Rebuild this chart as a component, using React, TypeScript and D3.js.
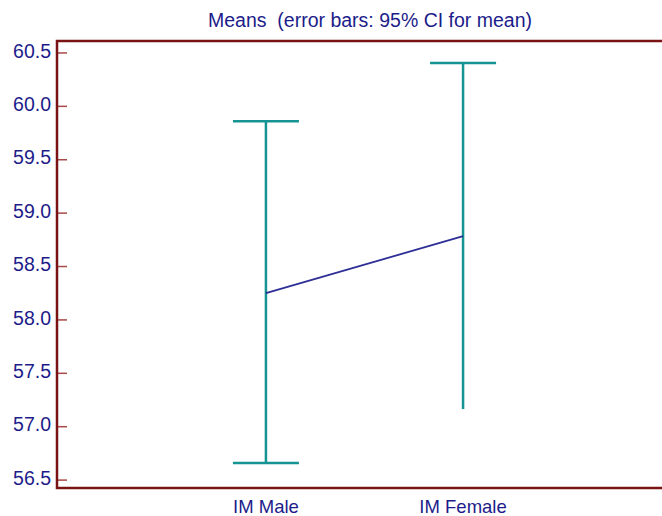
import React, { useRef, useEffect } from "react";
import * as d3 from "d3";

const categories = ["IM Male", "IM Female"];
const means = [58.25, 58.785];
const ciUpper = [59.86, 60.405];
const ciLower = [56.66, 57.165];
const showLowerCap = [true, false];
const yTicks = [56.5, 57.0, 57.5, 58.0, 58.5, 59.0, 59.5, 60.0, 60.5];
const title = "Means  (error bars: 95% CI for mean)";

const W = 662;
const H = 516;
const margin = { top: 41, right: -10, bottom: 28, left: 57 };

function App() {
  const svgRef = useRef<SVGSVGElement>(null);

  useEffect(() => {
    const svg = d3.select(svgRef.current);
    svg.selectAll("*").remove();

    const x0 = margin.left;
    const x1 = W - margin.right;
    const y0 = H - margin.bottom;
    const y1 = margin.top;

    const xScale = d3.scalePoint<string>()
      .domain(categories)
      .range([x0, x1])
      .padding(1.06);

    const yScale = d3.scaleLinear()
      .domain([56.426, 60.612])
      .range([y0, y1]);

    const font = "'Liberation Sans', Arial, sans-serif";
    const navy = "#1c1c8a";

    // title
    svg.append("text")
      .attr("x", 370)
      .attr("y", 27)
      .attr("text-anchor", "middle")
      .attr("font-family", font)
      .attr("font-size", 19.5)
      .attr("fill", navy)
      .style("white-space", "pre")
      .text(title);

    // y ticks
    const yAxis = svg.append("g");
    yAxis.selectAll("line")
      .data(yTicks)
      .join("line")
      .attr("x1", x0)
      .attr("x2", x0 + 10)
      .attr("y1", d => yScale(d))
      .attr("y2", d => yScale(d))
      .attr("stroke", "#a84848")
      .attr("stroke-width", 1.5);
    yAxis.selectAll("text")
      .data(yTicks)
      .join("text")
      .attr("x", x0 - 6)
      .attr("y", d => yScale(d) + 4.6)
      .attr("text-anchor", "end")
      .attr("font-family", font)
      .attr("font-size", 19.5)
      .attr("fill", navy)
      .text(d => d.toFixed(1));

    // x labels
    svg.append("g").selectAll("text")
      .data(categories)
      .join("text")
      .attr("x", d => xScale(d)!)
      .attr("y", y0 + 24.5)
      .attr("text-anchor", "middle")
      .attr("font-family", font)
      .attr("font-size", 18.5)
      .attr("fill", navy)
      .text(d => d);

    // error bars
    const teal = "#169393";
    const capW = 33;
    const eb = svg.append("g").attr("stroke", teal).attr("stroke-width", 2.5);
    categories.forEach((c, i) => {
      const cx = xScale(c)!;
      eb.append("line")
        .attr("x1", cx).attr("x2", cx)
        .attr("y1", yScale(ciUpper[i])).attr("y2", yScale(ciLower[i]));
      eb.append("line")
        .attr("x1", cx - capW).attr("x2", cx + capW)
        .attr("y1", yScale(ciUpper[i])).attr("y2", yScale(ciUpper[i]));
      if (showLowerCap[i]) {
        eb.append("line")
          .attr("x1", cx - capW).attr("x2", cx + capW)
          .attr("y1", yScale(ciLower[i])).attr("y2", yScale(ciLower[i]));
      }
    });

    // mean line
    const line = d3.line<number>()
      .x((d, i) => xScale(categories[i])!)
      .y(d => yScale(d));
    svg.append("path")
      .datum(means)
      .attr("d", line)
      .attr("fill", "none")
      .attr("stroke", "#2e2e96")
      .attr("stroke-width", 1.8);

    // frame
    svg.append("path")
      .attr("d", `M${W + 5},${y1}H${x0}V${y0}H${W + 5}`)
      .attr("fill", "none")
      .attr("stroke", "#7a1414")
      .attr("stroke-width", 2.5);
  }, []);

  return (
    <svg
      ref={svgRef}
      width={W}
      height={H}
      style={{ position: "absolute", left: 0, top: 0, background: "#fff" }}
    />
  );
}

export default App;
